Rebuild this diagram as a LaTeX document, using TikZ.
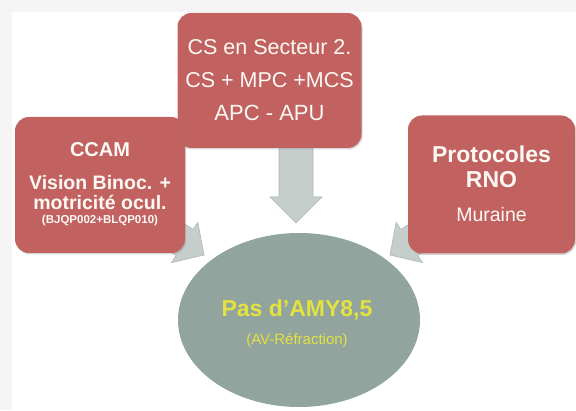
\documentclass[tikz,border=0pt]{standalone}
\usepackage{fontspec}
\setmainfont{Liberation Sans}
\usetikzlibrary{calc,shadows,shapes.geometric}
\definecolor{boxred}{RGB}{193,98,96}
\definecolor{ellgray}{RGB}{145,164,158}
\definecolor{arrgray}{RGB}{198,206,204}
\definecolor{arredge}{RGB}{172,182,180}
\definecolor{txtyel}{RGB}{228,226,62}
\definecolor{txtwhite}{RGB}{252,248,244}
\definecolor{pagegray}{RGB}{245,245,245}
\tikzset{
  redbox/.style={rectangle, rounded corners=14pt, fill=boxred, draw=none, inner sep=0pt,
    drop shadow={shadow xshift=1.2pt, shadow yshift=-1.5pt, opacity=0.3}},
  centre/.style={ellipse, fill=ellgray, draw=none, inner sep=0pt},
  arrowstyle/.style={fill=arrgray, draw=arredge, line width=0.6pt, line join=miter},
  wtext/.style={anchor=base, text=txtwhite, inner sep=0pt},
  ytext/.style={anchor=base, text=txtyel, inner sep=0pt},
}
\newcommand{\blockarr}[5]{%
  \filldraw[arrowstyle] let \p1=(#1), \p2=(#2),
    \n1={atan2(\y2-\y1,\x2-\x1)}, \n2={veclen(\x2-\x1,\y2-\y1)} in
    {[shift={(\p1)},rotate=\n1] (0,-#3) -- ({\n2-#5},-#3) -- ({\n2-#5},-#4) -- (\n2,0)
      -- ({\n2-#5},#4) -- ({\n2-#5},#3) -- (0,#3) -- cycle};}
\begin{document}
\begin{tikzpicture}[x=1pt,y=1pt]
\useasboundingbox (0,0) rectangle (576,410);
\fill[pagegray] (0,0) rectangle (576,410);
\fill[white] (12,0) rectangle (576,398);
% arrow anchor coordinates
\coordinate (aTs) at (296,270);
\coordinate (aTe) at (296,187);
\coordinate (aLs) at (141,196);
\coordinate (aLe) at (204,155);
\coordinate (aRs) at (453,196);
\coordinate (aRe) at (390,155);
\blockarr{aTs}{aTe}{17}{26}{26}
\blockarr{aLs}{aLe}{15.5}{24}{23}
\blockarr{aRs}{aRe}{15.5}{24}{23}
% boxes
\node[redbox, minimum width=184pt, minimum height=135pt] (boxT) at (269.5,329.5) {};
\node[redbox, minimum width=170pt, minimum height=136pt] (boxL) at (100,225) {};
\node[redbox, minimum width=167pt, minimum height=138pt] (boxR) at (491.5,225.5) {};
\node[centre, minimum width=242pt, minimum height=174pt] (ell) at (299,90) {};
% texts
\node[wtext, font=\fontsize{21.5}{26}\selectfont] (t1) at (269.5,355) {CS en Secteur 2.};
\node[wtext, font=\fontsize{21.5}{26}\selectfont] (t2) at (269.5,322) {CS + MPC +MCS};
\node[wtext, font=\fontsize{22}{26}\selectfont] (t3) at (269.5,289) {APC - APU};
\node[wtext, font=\fontsize{20}{24}\selectfont\bfseries] (l1) at (100,253) {CCAM};
\node[wtext, font=\fontsize{19.5}{23}\selectfont\bfseries] (l2) at (100,220) {Vision Binoc. +};
\node[wtext, font=\fontsize{19.5}{23}\selectfont\bfseries] (l3) at (100,200) {motricité ocul.};
\node[wtext, font=\fontsize{11.5}{13}\selectfont\bfseries] (l4) at (100,186) {(BJQP002+BLQP010)};
\node[wtext, font=\fontsize{23}{27}\selectfont\bfseries] (r1) at (491.5,247) {Protocoles};
\node[wtext, font=\fontsize{23}{27}\selectfont\bfseries] (r2) at (491.5,222) {RNO};
\node[wtext, font=\fontsize{19.5}{23}\selectfont] (r3) at (491.5,188) {Muraine};
\node[ytext, font=\fontsize{23}{27}\selectfont\bfseries] (e1) at (297,93) {Pas d’AMY8,5};
\node[ytext, font=\fontsize{15}{18}\selectfont] (e2) at (297,65) {(AV-Réfraction)};
\end{tikzpicture}
\end{document}
